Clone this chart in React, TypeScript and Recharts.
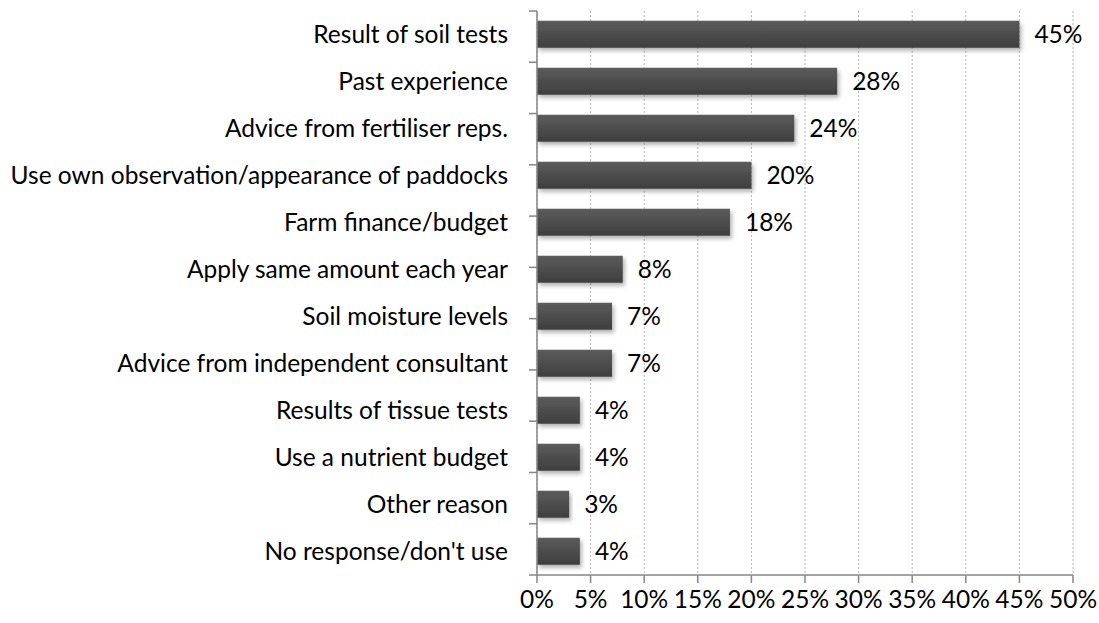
import { Bar, BarChart, CartesianGrid, LabelList, XAxis, YAxis } from "recharts";

const categories = [
  "Result of soil tests",
  "Past experience",
  "Advice from fertiliser reps.",
  "Use own observation/appearance of paddocks",
  "Farm finance/budget",
  "Apply same amount each year",
  "Soil moisture levels",
  "Advice from independent consultant",
  "Results of tissue tests",
  "Use a nutrient budget",
  "Other reason",
  "No response/don't use",
];
const shares = [45, 28, 24, 20, 18, 8, 7, 7, 4, 4, 3, 4];
const xTicks = [0, 5, 10, 15, 20, 25, 30, 35, 40, 45, 50];
const boundaryTicks = [0, 1, 2, 3, 4, 5, 6, 7, 8, 9, 10, 11, 12];

const data = categories.map((name, i) => ({ name, value: shares[i] }));

const FONT = "Lato, 'Open Sans', sans-serif";
const axisColor = "#868686";
const textStyle = { fill: "#000", fontSize: 24.5, fontFamily: FONT };

export default function App() {
  return (
    <div style={{ position: "absolute", left: 0, top: 0, width: 1099, height: 623, background: "#fff" }}>
      <BarChart
        width={1099}
        height={623}
        data={data}
        layout="vertical"
        margin={{ top: 11, right: 26, bottom: 0, left: 0 }}
        barCategoryGap="21%"
        style={{ fontFamily: FONT }}
      >
        <defs>
          <linearGradient id="barFill" x1="0" y1="0" x2="0" y2="1">
            <stop offset="0%" stopColor="#5c5c5c" />
            <stop offset="100%" stopColor="#3e3e3e" />
          </linearGradient>
          <filter id="barShadow" x="-5%" y="-20%" width="115%" height="160%">
            <feDropShadow dx="2" dy="3" stdDeviation="2" floodColor="#000" floodOpacity="0.3" />
          </filter>
        </defs>
        <CartesianGrid
          horizontal={false}
          stroke="#b4b4b4"
          strokeDasharray="2 2"
        />
        <XAxis
          type="number"
          domain={[0, 50]}
          ticks={xTicks}
          interval={0}
          height={48}
          stroke={axisColor}
          strokeWidth={1.5}
          tickSize={8}
          tickFormatter={(v: number) => `${v}%`}
          tick={textStyle}
          tickMargin={8}
        />
        <YAxis
          yAxisId="bounds"
          type="number"
          domain={[0, 12]}
          ticks={boundaryTicks}
          interval={0}
          width={1}
          stroke={axisColor}
          strokeWidth={1.5}
          tickSize={8}
          tick={() => <g />}
          reversed
        />
        <YAxis
          yAxisId="cat"
          type="category"
          dataKey="name"
          width={536}
          axisLine={false}
          tickLine={false}
          interval={0}
          tickMargin={22}
          tick={textStyle}
        />
        <Bar
          yAxisId="cat"
          dataKey="value"
          fill="url(#barFill)"
          filter="url(#barShadow)"
          isAnimationActive={false}
        >
          <LabelList
            dataKey="value"
            position="right"
            offset={15}
            formatter={(v: number) => `${v}%`}
            style={textStyle}
          />
        </Bar>
      </BarChart>
    </div>
  );
}
